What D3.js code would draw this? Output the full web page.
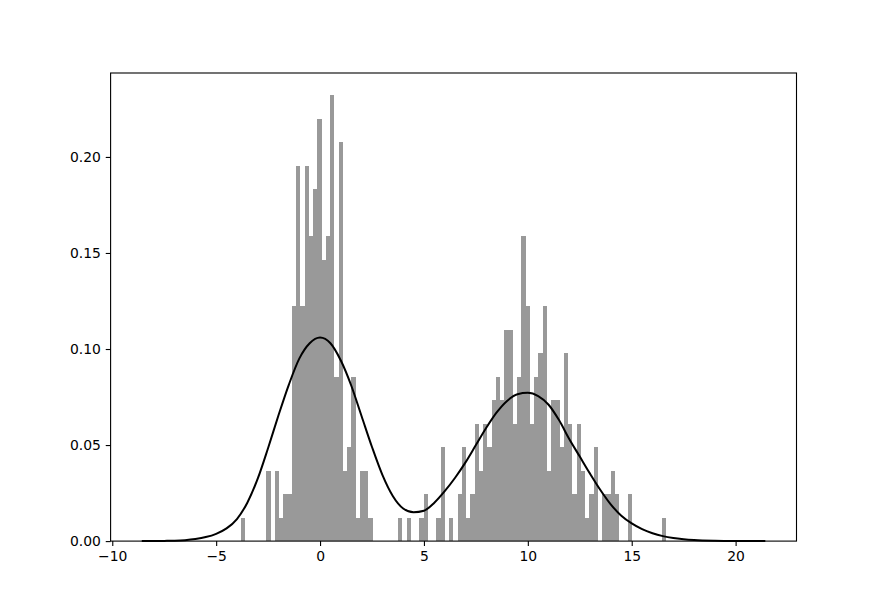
<!DOCTYPE html>
<html>
<head>
<meta charset="utf-8">
<script src="https://cdn.jsdelivr.net/npm/d3@7/dist/d3.min.js"></script>
<style>
  html, body { margin: 0; padding: 0; background: #fff; }
  svg { display: block; }
  text { font-family: "DejaVu Sans", sans-serif; }
</style>
</head>
<body>
<svg id="chart" width="885" height="608"></svg>
<script>
// ---------------- data ----------------
// histogram: 100 equal bins between the sample minimum and maximum, counts per bin
const sampleSize = 400;
const histRange = [-3.816, 16.65];
const binCounts = [
  1, 0, 0, 0, 0, 0, 3, 0, 3, 1,
  2, 2, 10, 16, 10, 16, 13, 15, 18, 12,
  13, 19, 7, 17, 3, 4, 7, 1, 3, 3,
  1, 0, 0, 0, 0, 0, 0, 1, 0, 1,
  0, 0, 1, 2, 0, 0, 1, 4, 0, 1,
  0, 2, 4, 1, 2, 5, 3, 5, 4, 6,
  7, 6, 9, 9, 5, 7, 13, 10, 5, 7,
  8, 10, 3, 6, 6, 4, 8, 5, 2, 5,
  3, 1, 2, 4, 0, 2, 2, 3, 2, 0,
  0, 2, 0, 0, 0, 0, 0, 0, 0, 1
];
// density curve, points
const kdeX = [-8.58, -7.5, -7.0, -6.5, -6.0, -5.5, -5.0, -4.5, -4.0, -3.5, -3.0, -2.5, -2.0, -1.5, -1.0, -0.5,
  0.0, 0.5, 1.0, 1.5, 2.0, 2.5, 3.0, 3.5, 4.0, 4.5, 5.0, 5.5, 6.0, 6.5, 7.0, 7.5, 8.0, 8.5, 9.0, 9.5,
  10.0, 10.5, 11.0, 11.5, 12.0, 12.5, 13.0, 13.5, 14.0, 14.5, 15.0, 15.5, 16.0, 16.5, 17.0, 17.5, 18.0, 19.0, 20.0, 21.43];
const kdeY = [0.0000, 0.0001, 0.0002, 0.0005, 0.0011, 0.0021, 0.0038, 0.0066, 0.0115, 0.0200, 0.0325, 0.0485, 0.0655, 0.0815, 0.0950, 0.1030,
  0.1060, 0.1030, 0.0940, 0.0810, 0.0650, 0.0490, 0.0345, 0.0235, 0.0170, 0.0150, 0.0158, 0.0200, 0.0260, 0.0330, 0.0410, 0.0500, 0.0590, 0.0670, 0.0730, 0.0765,
  0.0772, 0.0755, 0.0710, 0.0630, 0.0530, 0.0440, 0.0350, 0.0265, 0.0190, 0.0132, 0.0092, 0.0062, 0.0041, 0.0026, 0.0016, 0.0010, 0.0006, 0.0002, 0.00005, 0.0000];
const xTicks = [-10, -5, 0, 5, 10, 15, 20];
const yTicks = [0.00, 0.05, 0.10, 0.15, 0.20];

// ---------------- layout ----------------
const W = 885, H = 608;
const margin = { left: 110.6, right: 88.5, top: 73, bottom: 66.9 };
const iw = W - margin.left - margin.right;
const ih = H - margin.top - margin.bottom;

const nb = binCounts.length;
const bw = (histRange[1] - histRange[0]) / nb;
const bins = binCounts.map((c, i) => ({
  x0: histRange[0] + i * bw,
  x1: histRange[0] + (i + 1) * bw,
  d: c / (sampleSize * bw)
}));

const xmin = d3.min(kdeX), xmax = d3.max(kdeX);
const xr = xmax - xmin;
const x = d3.scaleLinear().domain([xmin - 0.05 * xr, xmax + 0.05 * xr]).range([0, iw]);
const ymaxData = Math.max(d3.max(bins, b => b.d), d3.max(kdeY));
const y = d3.scaleLinear().domain([0, ymaxData * 1.05]).range([ih, 0]);

const svg = d3.select("#chart");
const g = svg.append("g").attr("transform", `translate(${margin.left},${margin.top})`);

// bars
g.append("g").attr("shape-rendering", "crispEdges")
  .selectAll("rect").data(bins.filter(b => b.d > 0)).join("rect")
  .attr("x", b => x(b.x0))
  .attr("width", b => x(b.x1) - x(b.x0))
  .attr("y", b => y(b.d))
  .attr("height", b => y(0) - y(b.d))
  .attr("fill", "#999999");

// density line
const pts = kdeX.map((v, i) => [v, kdeY[i]]);
g.append("path").datum(pts)
  .attr("fill", "none")
  .attr("stroke", "#000")
  .attr("stroke-width", 2)
  .attr("stroke-linejoin", "round")
  .attr("d", d3.line().x(d => x(d[0])).y(d => y(d[1])).curve(d3.curveMonotoneX));

// axes
const fmtX = d => (d < 0 ? "\u2212" + Math.abs(d) : String(d));
const xAxis = d3.axisBottom(x).tickValues(xTicks).tickFormat(fmtX).tickSizeInner(4.86).tickSizeOuter(0).tickPadding(4.86);
const yAxis = d3.axisLeft(y).tickValues(yTicks).tickFormat(d3.format(".2f")).tickSizeInner(4.86).tickSizeOuter(0).tickPadding(4.86);

const gx = g.append("g").attr("transform", `translate(0,${ih})`).call(xAxis);
const gy = g.append("g").call(yAxis);
[gx, gy].forEach(a => {
  a.select(".domain").remove();
  a.selectAll("line").attr("stroke", "#000").attr("stroke-width", 1.1);
  a.selectAll("text").attr("fill", "#000").style("font-size", "13.9px").style("font-family", "DejaVu Sans, sans-serif");
});

// frame (spines)
g.append("rect").attr("x", 0).attr("y", 0).attr("width", iw).attr("height", ih)
  .attr("fill", "none").attr("stroke", "#000").attr("stroke-width", 1.1);
</script>
</body>
</html>
